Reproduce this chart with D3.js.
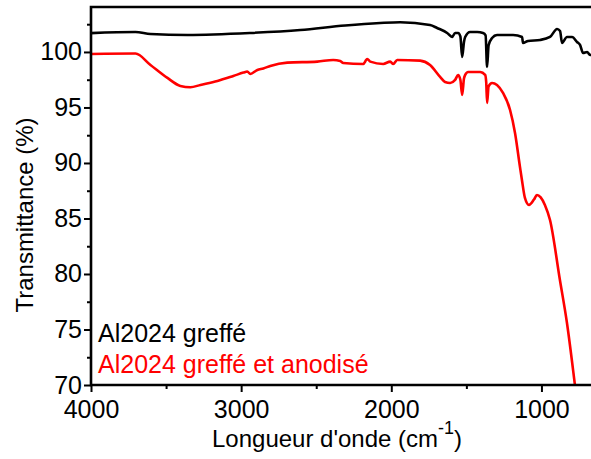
<!DOCTYPE html>
<html>
<head>
<meta charset="utf-8">
<script src="https://cdn.jsdelivr.net/npm/d3@7"></script>
<style>
  html, body { margin: 0; padding: 0; background: #fff; }
  svg { display: block; font-family: Arial, "Liberation Sans", sans-serif; }
</style>
</head>
<body>
<svg id="chart" width="591" height="459"></svg>
<script>
// FTIR spectra: wavenumber (cm-1) and transmittance (%)
const wnGreffe = [4000, 3704, 3604, 3358, 2939, 2606, 2307, 2074, 1941, 1742, 1695, 1628, 1595, 1575, 1555, 1540, 1528, 1516, 1508, 1475, 1428, 1389, 1372, 1362, 1352, 1329, 1296, 1189, 1129, 1123, 1089, 1009, 943, 896, 876, 863, 830, 796, 763, 743, 723, 696, 676, 650];
const tGreffe  = [101.7, 101.8, 101.62, 101.53, 101.71, 101.98, 102.39, 102.61, 102.68, 102.43, 102.16, 101.71, 101.35, 101.71, 101.71, 101.4, 99.55, 100.9, 101.35, 101.8, 101.8, 101.71, 101.5, 98.65, 100.6, 101.26, 101.53, 101.53, 101.35, 100.81, 100.99, 101.08, 101.35, 102.07, 101.89, 100.81, 101.35, 101.35, 100.9, 100.63, 99.91, 100.0, 99.73, 99.8];

const wnAnodise = [4000, 3704, 3604, 3491, 3405, 3338, 3271, 3158, 3052, 2985, 2959, 2939, 2892, 2852, 2806, 2693, 2493, 2387, 2340, 2320, 2187, 2167, 2160, 2140, 2054, 2007, 1987, 1961, 1808, 1742, 1675, 1642, 1608, 1575, 1555, 1540, 1528, 1516, 1508, 1488, 1408, 1375, 1368, 1362, 1352, 1329, 1296, 1256, 1209, 1176, 1143, 1130, 1110, 1083, 1050, 1030, 1005, 977, 943, 877, 830, 777, 750];
const tAnodise  = [99.82, 99.86, 98.83, 97.66, 96.94, 96.82, 97.03, 97.39, 97.84, 98.14, 98.24, 98.02, 98.38, 98.51, 98.74, 99.04, 99.13, 99.28, 99.19, 99.01, 98.92, 99.28, 99.37, 99.13, 98.92, 99.13, 98.92, 99.28, 99.22, 98.83, 97.75, 97.3, 97.21, 97.48, 97.93, 97.5, 96.13, 97.6, 97.93, 98.2, 98.2, 97.93, 97.3, 95.41, 96.9, 97.21, 97.03, 96.31, 94.77, 92.7, 89.64, 88.47, 86.85, 86.22, 86.7, 87.12, 86.9, 86.22, 84.86, 79.46, 75.59, 70.0, 67.0];

const xTicksMajor = [4000, 3000, 2000, 1000];
const xTicksMinor = [3500, 2500, 1500];
const yTicksMajor = [70, 75, 80, 85, 90, 95, 100];
const yTicksMinor = [72.5, 77.5, 82.5, 87.5, 92.5, 97.5, 102.5];

const series = [
  { name: "Al2024 greffé", wn: wnGreffe, t: tGreffe, color: "#000000" },
  { name: "Al2024 greffé et anodisé", wn: wnAnodise, t: tAnodise, color: "#ff0000" }
];

const svg = d3.select("#chart");
const plotLeft = 91, plotTop = 7, plotBottom = 385, plotRight = 594;

const x = d3.scaleLinear().domain([4000, 650]).range([plotLeft, plotRight]);
const y = d3.scaleLinear().domain([70, 104.05]).range([plotBottom, plotTop]);

svg.append("defs").append("clipPath").attr("id", "plot-clip")
  .append("rect").attr("x", plotLeft).attr("y", plotTop)
  .attr("width", plotRight - plotLeft).attr("height", plotBottom - plotTop);

const line = d3.line().x(d => x(d[0])).y(d => y(d[1])).curve(d3.curveMonotoneX);

const plot = svg.append("g").attr("clip-path", "url(#plot-clip)");
series.forEach(s => {
  const pts = s.wn.map((w, i) => [w, s.t[i]]);
  plot.append("path")
    .datum(pts)
    .attr("d", line)
    .attr("fill", "none")
    .attr("stroke", s.color)
    .attr("stroke-width", 2.6)
    .attr("stroke-linejoin", "round");
});

// axes
const fontSize = 25;
const xAxis = svg.append("g").attr("transform", `translate(0,${plotBottom})`)
  .call(d3.axisBottom(x).tickValues(xTicksMajor).tickFormat(d3.format("d")).tickSize(7).tickPadding(8));
const xMinor = svg.append("g").attr("transform", `translate(0,${plotBottom})`)
  .call(d3.axisBottom(x).tickValues(xTicksMinor).tickFormat("").tickSize(4));
const yAxis = svg.append("g").attr("transform", `translate(${plotLeft},0)`)
  .call(d3.axisLeft(y).tickValues(yTicksMajor).tickFormat(d3.format("d")).tickSize(7).tickPadding(2));
const yMinor = svg.append("g").attr("transform", `translate(${plotLeft},0)`)
  .call(d3.axisLeft(y).tickValues(yTicksMinor).tickFormat("").tickSize(4));

[xAxis, xMinor, yAxis, yMinor].forEach(g => {
  g.select(".domain").remove();
  g.selectAll(".tick line").attr("stroke", "#000").attr("stroke-width", 2);
  g.selectAll(".tick text").attr("font-size", fontSize).attr("fill", "#000")
    .attr("font-family", "Arial, 'Liberation Sans', sans-serif");
});

// frame
svg.append("path")
  .attr("d", `M${plotRight + 10},${plotTop} H${plotLeft} V${plotBottom} H${plotRight + 10}`)
  .attr("fill", "none").attr("stroke", "#000").attr("stroke-width", 2.6);

// axis titles
svg.append("text")
  .attr("transform", `translate(33,215) rotate(-90)`)
  .attr("text-anchor", "middle")
  .attr("font-size", 24).attr("fill", "#000")
  .text("Transmittance (%)");

const xt = svg.append("text")
  .attr("x", 212).attr("y", 447)
  .attr("font-size", 24).attr("fill", "#000");
xt.append("tspan").text("Longueur d'onde (cm");
xt.append("tspan").attr("dy", -13).attr("font-size", 18).text("-1");
xt.append("tspan").attr("dy", 13).text(")");

// legend labels
series.forEach((s, i) => {
  svg.append("text")
    .attr("x", 98).attr("y", 342 + i * 31)
    .attr("font-size", fontSize).attr("fill", s.color)
    .text(s.name);
});
</script>
</body>
</html>
